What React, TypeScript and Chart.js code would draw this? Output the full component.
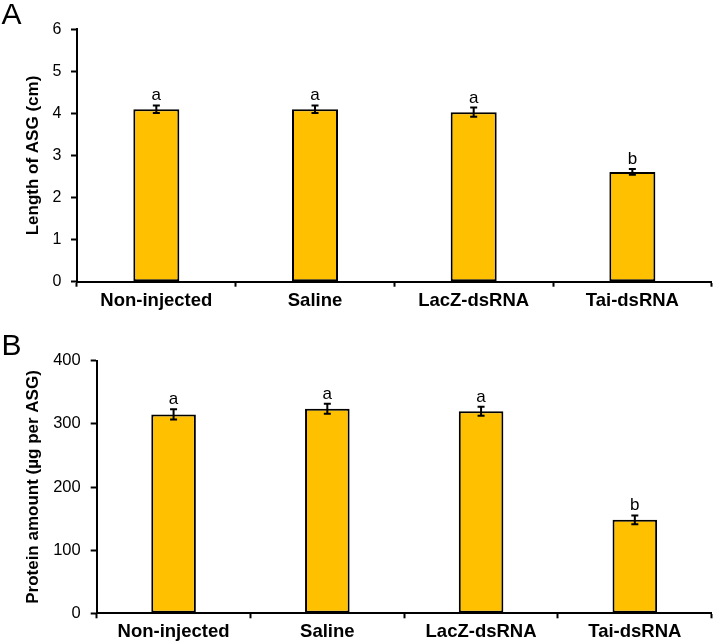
import React, { useEffect, useRef } from "react";
import { Chart, registerables } from "chart.js";

Chart.register(...registerables);

const FONT = "'Liberation Sans', Arial, Helvetica, sans-serif";

// ---- data ----
const categories = ["Non-injected", "Saline", "LacZ-dsRNA", "Tai-dsRNA"];

const lengthMeans = [4.1, 4.1, 4.03, 2.61];
const lengthErrors = [0.09, 0.09, 0.11, 0.07];
const lengthLetters = ["a", "a", "a", "b"];
const lengthAxisMax = 6;
const lengthAxisStep = 1;

const proteinMeans = [315, 324, 320, 148];
const proteinErrors = [8, 8, 7, 7];
const proteinLetters = ["a", "a", "a", "b"];
const proteinAxisMax = 400;
const proteinAxisStep = 100;

type PanelCfg = {
  label: string;
  yTitle: string;
  means: number[];
  errors: number[];
  letters: string[];
  yMax: number;
  yStep: number;
  yAxisWidth: number;
  topPad: number;
  xAxisHeight: number;
  tickSize: number;
  yTickLen: number;
  yTickPad: number;
  labelBaseline: number;
};

const panels: PanelCfg[] = [
  {
    label: "A",
    yTitle: "Length of ASG (cm)",
    means: lengthMeans,
    errors: lengthErrors,
    letters: lengthLetters,
    yMax: lengthAxisMax,
    yStep: lengthAxisStep,
    yAxisWidth: 77,
    topPad: 29.3,
    xAxisHeight: 40.3,
    tickSize: 16,
    yTickLen: 6,
    yTickPad: 9.5,
    labelBaseline: 24,
  },
  {
    label: "B",
    yTitle: "Protein amount (µg per ASG)",
    means: proteinMeans,
    errors: proteinErrors,
    letters: proteinLetters,
    yMax: proteinAxisMax,
    yStep: proteinAxisStep,
    yAxisWidth: 96.7,
    topPad: 38.7,
    xAxisHeight: 30.7,
    tickSize: 16.5,
    yTickLen: 6,
    yTickPad: 10,
    labelBaseline: 33,
  },
];

function Panel({ cfg }: { cfg: PanelCfg }) {
  const ref = useRef<HTMLCanvasElement | null>(null);

  useEffect(() => {
    const canvas = ref.current;
    if (!canvas) return;

    const overlay = {
      id: "errorBarsLetters",
      afterDatasetsDraw(chart: any) {
        const ctx = chart.ctx as CanvasRenderingContext2D;
        const xs = chart.scales.x;
        const ys = chart.scales.y;
        ctx.save();
        ctx.strokeStyle = "#000";
        ctx.lineWidth = 2;
        ctx.fillStyle = "#000";
        ctx.font = `17px ${FONT}`;
        ctx.textAlign = "center";
        ctx.textBaseline = "alphabetic";
        cfg.means.forEach((m, i) => {
          const x = xs.getPixelForValue(i);
          const yTop = ys.getPixelForValue(m + cfg.errors[i]);
          const yBot = ys.getPixelForValue(m - cfg.errors[i]);
          ctx.beginPath();
          ctx.moveTo(x, yTop);
          ctx.lineTo(x, yBot);
          ctx.moveTo(x - 3.5, yTop);
          ctx.lineTo(x + 3.5, yTop);
          ctx.moveTo(x - 3.5, yBot);
          ctx.lineTo(x + 3.5, yBot);
          ctx.stroke();
          ctx.fillText(cfg.letters[i], x, yTop - 5);
        });
        // panel label
        ctx.textAlign = "left";
        ctx.font = `30px ${FONT}`;
        ctx.fillText(cfg.label, 1.5, cfg.labelBaseline);
        ctx.restore();
      },
    };

    const chart = new Chart(canvas, {
      type: "bar",
      data: {
        labels: categories,
        datasets: [
          {
            data: cfg.means,
            backgroundColor: "#FFC000",
            borderColor: "#000000",
            borderWidth: 2,
            borderSkipped: false,
            barPercentage: 0.29,
            categoryPercentage: 1,
          },
        ],
      },
      options: {
        animation: false,
        responsive: false,
        maintainAspectRatio: false,
        devicePixelRatio: 1,
        layout: { padding: { top: cfg.topPad, right: 2.3, bottom: 0, left: 0 } },
        plugins: {
          legend: { display: false },
          tooltip: { enabled: false },
          title: { display: false },
        },
        scales: {
          x: {
            type: "category",
            offset: true,
            grid: {
              display: true,
              offset: true,
              drawOnChartArea: false,
              drawTicks: true,
              tickLength: 5,
              tickWidth: 2,
              tickColor: "#000",
              color: "#000",
            },
            border: { display: true, color: "#000", width: 2 },
            ticks: {
              color: "#000",
              font: { family: FONT, size: 18.5, weight: "bold" },
              padding: 3,
              maxRotation: 0,
              minRotation: 0,
              autoSkip: false,
            },
            afterFit: (s: any) => {
              s.height = cfg.xAxisHeight;
            },
          },
          y: {
            type: "linear",
            min: 0,
            max: cfg.yMax,
            ticks: {
              stepSize: cfg.yStep,
              color: "#000",
              font: { family: FONT, size: cfg.tickSize },
              padding: cfg.yTickPad,
            },
            grid: {
              drawOnChartArea: false,
              drawTicks: true,
              tickLength: cfg.yTickLen,
              tickWidth: 2,
              tickColor: "#000",
            },
            border: { display: true, color: "#000", width: 2 },
            title: {
              display: true,
              text: cfg.yTitle,
              color: "#000",
              font: { family: FONT, size: 17, weight: "bold" },
              padding: { top: 23, bottom: 0 },
            },
            afterFit: (s: any) => {
              s.width = cfg.yAxisWidth;
            },
          },
        },
      },
      plugins: [overlay],
    } as any);

    return () => chart.destroy();
  }, [cfg]);

  return (
    <canvas
      ref={ref}
      width={714}
      height={322}
      style={{ display: "block", width: 714, height: 322 }}
    />
  );
}

export default function App() {
  return (
    <div
      style={{
        position: "absolute",
        left: 0,
        top: 0,
        width: 714,
        height: 644,
        background: "#fff",
      }}
    >
      {panels.map((p) => (
        <Panel key={p.label} cfg={p} />
      ))}
    </div>
  );
}
